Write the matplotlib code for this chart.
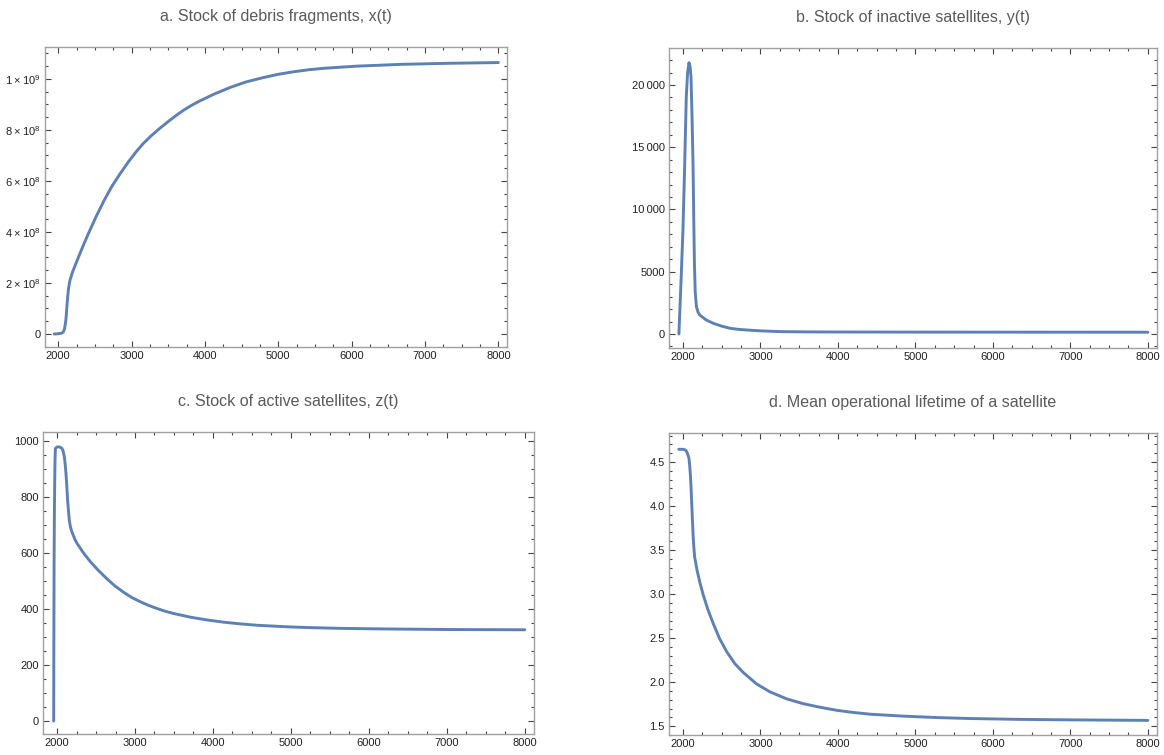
import matplotlib
matplotlib.use("Agg")
import matplotlib.pyplot as plt
from matplotlib.ticker import MultipleLocator, FuncFormatter

plt.rcParams['font.family'] = ['Liberation Sans', 'DejaVu Sans']
plt.rcParams['mathtext.default'] = 'regular'

# a. debris fragments x(t)
t_debris = [1945, 2000, 2043, 2070, 2086, 2100, 2108, 2118, 2129, 2140, 2159, 2194, 2230,
            2280, 2340, 2409, 2520, 2625, 2730, 2841, 2950, 3056, 3160, 3272, 3380,
            3487, 3600, 3703, 3810, 3918, 4130, 4349, 4560, 4780, 5000, 5211, 5420,
            5642, 6073, 6677, 7300, 8000]
debris = [0.0, 0.001e9, 0.003e9, 0.008e9, 0.02e9, 0.045e9, 0.065e9, 0.105e9, 0.144e9,
          0.178e9, 0.209e9, 0.242e9, 0.268e9, 0.304e9, 0.346e9, 0.392e9, 0.462e9,
          0.523e9, 0.578e9, 0.627e9, 0.672e9, 0.712e9, 0.747e9, 0.778e9, 0.805e9,
          0.830e9, 0.855e9, 0.876e9, 0.895e9, 0.912e9, 0.941e9, 0.967e9, 0.988e9,
          1.004e9, 1.018e9, 1.028e9, 1.036e9, 1.042e9, 1.050e9, 1.057e9, 1.061e9, 1.064e9]

# b. inactive satellites y(t)
t_inactive = [1948, 1975, 2000, 2020, 2043, 2060, 2078, 2092, 2104, 2117, 2130, 2139, 2148,
              2158, 2174, 2195, 2217, 2300, 2391, 2500, 2609, 2720, 2826, 3000, 3261,
              3600, 4000, 5000, 6000, 7000, 8000]
inactive = [0, 4200, 8340, 13000, 19040, 21000, 21790, 21500, 20640, 17500, 13690, 9500,
            5670, 3400, 2190, 1750, 1520, 1130, 860, 630, 455, 370, 320, 250, 190,
            170, 160, 152, 148, 145, 143]

# c. active satellites z(t)
t_active = [1957, 1959, 1962, 1966, 1970, 1974, 1979, 1995, 2021, 2045, 2064, 2080, 2094,
            2105, 2115, 2126, 2136, 2147, 2157, 2172, 2191, 2232, 2255, 2340, 2425,
            2530, 2640, 2745, 2854, 2960, 3069, 3175, 3283, 3390, 3498, 3710, 3927,
            4140, 4356, 4570, 4786, 5000, 5215, 5644, 6200, 7000, 8000]
active = [0, 250, 550, 740, 848, 930, 973, 978, 979, 977, 973, 962, 943,
          915, 883, 835, 788, 750, 717, 693, 675, 647, 635, 600, 570,
          538, 508, 482, 460, 441, 426, 413, 402, 392, 384, 371, 361,
          353, 347, 342, 339, 336, 334, 331, 329, 327, 326]

# d. mean operational lifetime
t_life = [1945, 2000, 2022, 2040, 2052, 2065, 2078, 2087, 2095, 2104, 2112, 2121, 2130,
          2140, 2151, 2164, 2180, 2216, 2259, 2320, 2389, 2470, 2562, 2670, 2778,
          2950, 3123, 3340, 3555, 3770, 3987, 4200, 4419, 4851, 5280, 5715, 6300,
          7000, 8000]
lifetime = [4.645, 4.645, 4.64, 4.63, 4.61, 4.58, 4.54, 4.46, 4.37, 4.22, 4.06, 3.87, 3.69,
            3.54, 3.42, 3.36, 3.28, 3.14, 3.00, 2.83, 2.67, 2.50, 2.35, 2.21, 2.11,
            1.98, 1.89, 1.81, 1.755, 1.715, 1.68, 1.656, 1.636, 1.614, 1.598, 1.587, 1.578,
            1.572, 1.566]

titles = ["a. Stock of debris fragments, x(t)",
          "b. Stock of inactive satellites, y(t)",
          "c. Stock of active satellites, z(t)",
          "d. Mean operational lifetime of a satellite"]

line_color = '#5E81B5'
frame_color = '#a0a0a0'


def sci_label(v, pos):
    if v == 0:
        return "0"
    exp = 0
    m = v
    while abs(m) >= 10:
        m /= 10
        exp += 1
    return r"$%d\times10^{%d}$" % (round(m), exp)


def space_label(v, pos):
    v = int(round(v))
    if abs(v) >= 10000:
        return "{:,}".format(v).replace(",", "\u2009")
    return str(v)


fig = plt.figure(figsize=(11.64, 7.55), dpi=100)
W, H = 1164, 755


def make_axes(l, r, t, b):
    return fig.add_axes([l / W, 1 - b / H, (r - l) / W, (b - t) / H])


ax_a = make_axes(45, 507, 47, 347)
ax_b = make_axes(669, 1157, 48, 348)
ax_c = make_axes(43, 534, 432, 734)
ax_d = make_axes(669, 1157, 433, 735)

panels = [
    (ax_a, t_debris, debris, (-0.051e9, 1.125e9), 2e8, 5e7, FuncFormatter(sci_label)),
    (ax_b, t_inactive, inactive, (-1125, 22970), 5000, 1000, FuncFormatter(space_label)),
    (ax_c, t_active, active, (-46, 1032), 200, 50, None),
    (ax_d, t_life, lifetime, (1.40, 4.83), 0.5, 0.1, FuncFormatter(lambda v, p: "%.1f" % v)),
]

for (ax, tt, vv, ylim, ymaj, ymin, fmt), title in zip(panels, titles):
    ax.plot(tt, vv, color=line_color, lw=2.1, solid_joinstyle='round',
            solid_capstyle='round')
    ax.set_xlim(1820, 8118)
    ax.set_ylim(*ylim)
    ax.xaxis.set_major_locator(MultipleLocator(1000))
    ax.xaxis.set_minor_locator(MultipleLocator(250))
    ax.yaxis.set_major_locator(MultipleLocator(ymaj))
    ax.yaxis.set_minor_locator(MultipleLocator(ymin))
    if fmt is not None:
        ax.yaxis.set_major_formatter(fmt)
    ax.tick_params(which='both', direction='in', top=True, right=True,
                   color='#444444', labelsize=8, labelcolor='#222222', width=0.8)
    ax.tick_params(which='major', length=4.5, pad=3)
    ax.tick_params(which='minor', length=2.5)
    for s in ax.spines.values():
        s.set_color(frame_color)
        s.set_linewidth(1.0)
    ax.set_title(title, fontsize=11.5, color='#5a5a5a', pad=19)

fig.savefig("out.png", dpi=100, facecolor='white')
